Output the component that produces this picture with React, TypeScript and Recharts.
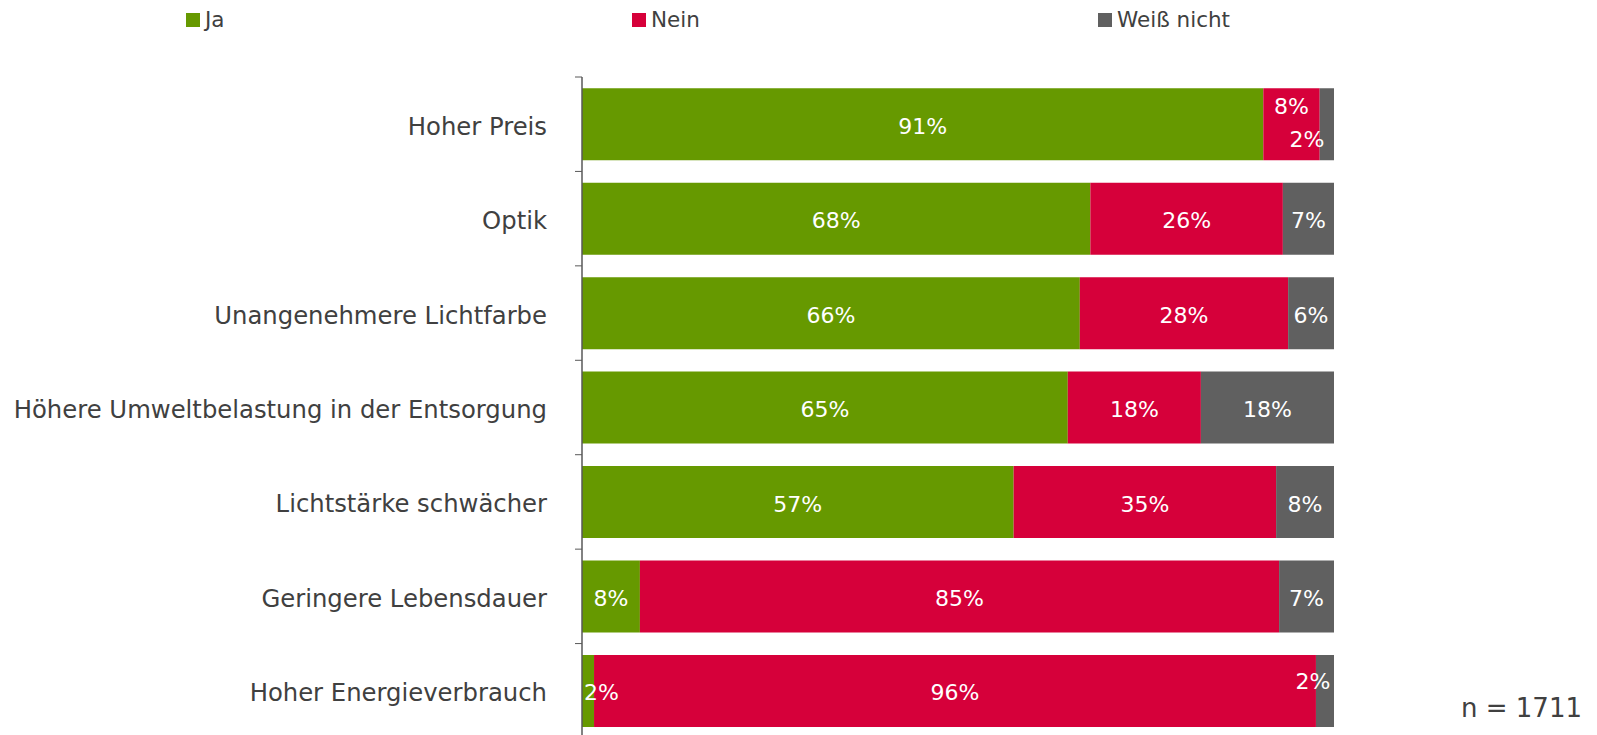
import { Bar, BarChart, LabelList, Legend, XAxis, YAxis } from "recharts";

const categories = [
    "Hoher Preis",
    "Optik",
    "Unangenehmere Lichtfarbe",
    "Höhere Umweltbelastung in der Entsorgung",
    "Lichtstärke schwächer",
    "Geringere Lebensdauer",
    "Hoher Energieverbrauch"
];
const ja = [90.6, 67.6, 66.2, 64.6, 57.4, 7.7, 1.6];
const nein = [7.5, 25.6, 27.7, 17.7, 34.9, 85.0, 96.0];
const weissNicht = [1.9, 6.8, 6.1, 17.7, 7.7, 7.3, 2.4];

const seriesNames = ["Ja", "Nein", "Weiß nicht"];

const data = categories.map((name, i) => ({
    name,
    ja: ja[i],
    nein: nein[i],
    weissNicht: weissNicht[i]
}));

const W = 1597;
const H = 735;
const LEGEND_H = 40;
const PLOT_TOP = 77;
const MARGIN = { top: PLOT_TOP - LEGEND_H, right: 263, bottom: -3, left: 0 };
const AXIS_X = 582;
const BAND = (H - PLOT_TOP - MARGIN.bottom) / categories.length;
const FONT = "'DejaVu Sans', Verdana, sans-serif";

const COLORS = { ja: "#669900", nein: "#d6003a", weissNicht: "#606060" };

// Excel moved a few labels of the thin segments around
const nudges: Record<string, { dx: number; dy: number; anchor?: string }> = {
    "nein-0": { dx: 0, dy: -20 },
    "weissNicht-0": { dx: -20, dy: 13 },
    "ja-6": { dx: 0, dy: 0, anchor: "start" },
    "weissNicht-6": { dx: -12, dy: -11 }
};

const makeLabel = (key: string) => (props: any) => {
    const { x, y, width, height, value, index } = props;
    const n = nudges[`${key}-${index}`];
    const anchor = n?.anchor ?? "middle";
    const tx = anchor === "start" ? x + 2 : x + width / 2 + (n?.dx ?? 0);
    const ty = y + height / 2 + 2 + (n?.dy ?? 0);
    return (
        <text x={tx} y={ty} textAnchor={anchor} dominantBaseline="central" fill="#ffffff" fontSize={22} fontFamily={FONT}>
            {`${Math.round(value)}%`}
        </text>
    );
};

const CategoryTick = (props: any) => {
    const { y, payload } = props;
    const top = y - BAND / 2;
    return (
        <g>
            <line x1={AXIS_X - 7} x2={AXIS_X} y1={top} y2={top} stroke="#595959" strokeWidth={1} />
            <text x={AXIS_X - 35} y={y + 2} textAnchor="end" dominantBaseline="central" fill="#404040" fontSize={24.3} fontFamily={FONT}>
                {payload.value}
            </text>
        </g>
    );
};

const legendLeft = [186, 632, 1098];

const renderLegend = () => (
    <div style={{ position: "relative", width: W, height: LEGEND_H }}>
        {seriesNames.map((name, i) => (
            <div key={name} style={{ position: "absolute", left: legendLeft[i], top: 7, display: "flex", alignItems: "center", fontFamily: FONT, fontSize: 21.5, color: "#404040" }}>
                <span style={{ display: "inline-block", width: 14, height: 14, background: Object.values(COLORS)[i], marginRight: 5 }} />
                {name}
            </div>
        ))}
    </div>
);

const App = () => {
    return (
        <div style={{ position: "absolute", left: 0, top: 0, width: W, height: H, background: "#ffffff" }}>
            <BarChart width={W} height={H} data={data} layout="vertical" margin={MARGIN} barCategoryGap="12%">
                <XAxis type="number" domain={[0, 100]} hide />
                <YAxis
                    type="category"
                    dataKey="name"
                    width={AXIS_X}
                    axisLine={{ stroke: "#595959", strokeWidth: 1.5 }}
                    tickLine={false}
                    tick={<CategoryTick />}
                    interval={0}
                />
                <Legend verticalAlign="top" height={LEGEND_H} content={renderLegend} wrapperStyle={{ top: 0, left: 0 }} />
                <Bar dataKey="ja" name="Ja" stackId="a" fill={COLORS.ja} isAnimationActive={false}>
                    <LabelList dataKey="ja" content={makeLabel("ja")} />
                </Bar>
                <Bar dataKey="nein" name="Nein" stackId="a" fill={COLORS.nein} isAnimationActive={false}>
                    <LabelList dataKey="nein" content={makeLabel("nein")} />
                </Bar>
                <Bar dataKey="weissNicht" name="Weiß nicht" stackId="a" fill={COLORS.weissNicht} isAnimationActive={false}>
                    <LabelList dataKey="weissNicht" content={makeLabel("weissNicht")} />
                </Bar>
            </BarChart>
            <div style={{ position: "absolute", left: 1461, top: 693, fontFamily: FONT, fontSize: 26, color: "#404040", whiteSpace: "pre" }}>
                n = 1711
            </div>
        </div>
    );
};

export default App;
